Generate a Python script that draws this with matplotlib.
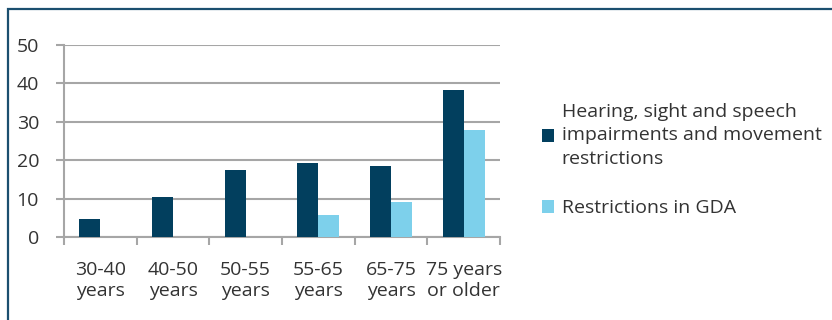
import matplotlib
matplotlib.use("Agg")
import matplotlib.pyplot as plt
from matplotlib.patches import Rectangle, Patch
import numpy as np

plt.rcParams['font.family'] = ['Open Sans', 'DejaVu Sans']

categories = ["30-40\nyears", "40-50\nyears", "50-55\nyears", "55-65\nyears",
              "65-75\nyears", "75 years\nor older"]
impairments = [4.7, 10.4, 17.4, 19.2, 18.4, 38.3]
gda = [0, 0, 0, 5.8, 9.0, 27.9]
series_labels = ["Hearing, sight and speech\nimpairments and movement\nrestrictions",
                 "Restrictions in GDA"]
yticks = [0, 10, 20, 30, 40, 50]

dark = "#023f5e"
light = "#7dd0eb"
text_col = "#333333"
grid_col = "#a6a6a6"

fig = plt.figure(figsize=(8.32, 3.2), dpi=100)
ax = fig.add_axes([64/832, 83/320, 436/832, 192/320])

x = np.arange(len(categories))
w = 0.29
ax.bar(x - w/2, impairments, w, color=dark, zorder=3)
ax.bar(x + w/2, gda, w, color=light, zorder=3)

ax.set_xlim(-0.5, len(categories) - 0.5)
ax.set_ylim(0, 50)
ax.set_yticks(yticks)
ax.set_yticklabels([str(t) for t in yticks])
ax.yaxis.grid(True, color=grid_col, linewidth=1.5, zorder=0)
for s in ["top", "right"]:
    ax.spines[s].set_visible(False)
for s in ["left", "bottom"]:
    ax.spines[s].set_color(grid_col)
    ax.spines[s].set_linewidth(1.5)

ax.set_xticks(x)
ax.set_xticklabels(categories)
ax.set_xticks(np.arange(len(categories) + 1) - 0.5, minor=True)
ax.tick_params(axis='x', which='major', length=0, pad=17, labelsize=14,
               labelcolor=text_col)
ax.tick_params(axis='x', which='minor', length=6, width=1.5, color=grid_col)
ax.tick_params(axis='y', length=6, width=1.5, color=grid_col, pad=12,
               labelsize=14, labelcolor=text_col)
for lbl in ax.get_xticklabels():
    lbl.set_linespacing(1.25)

handles = [Patch(facecolor=dark), Patch(facecolor=light)]
leg = fig.legend(handles, series_labels, loc='center left',
                 bbox_to_anchor=(542/832, 1 - 160/320), frameon=False,
                 fontsize=14, labelcolor=text_col, handlelength=0.62,
                 handleheight=0.62, handletextpad=0.4, labelspacing=1.62,
                 borderpad=0, borderaxespad=0)
for t in leg.get_texts():
    t.set_linespacing(1.38)

# frame around the figure panel
fig.patches.append(Rectangle((8/832, -0.1), 1.0, 1 - 9/320 + 0.1,
                             transform=fig.transFigure, fill=False,
                             edgecolor="#1b4f6f", linewidth=1.6))

fig.savefig("out.png", dpi=100)
